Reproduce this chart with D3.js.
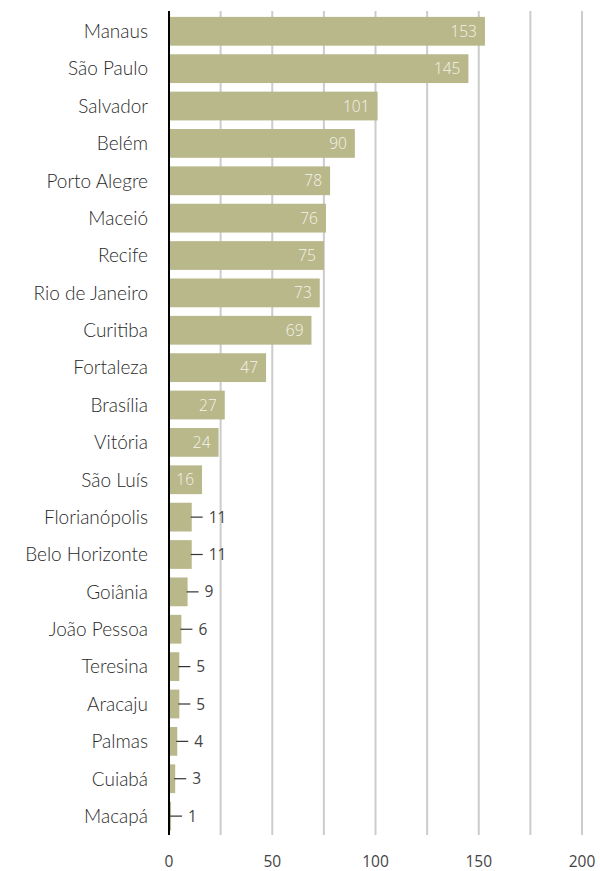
<!DOCTYPE html>
<html>
<head>
<meta charset="utf-8">
<script src="https://cdn.jsdelivr.net/npm/d3@7"></script>
<style>
  body { margin: 0; background: #fff; }
  svg { display: block; }
</style>
</head>
<body>
<script>
// cities and counts
const cities = ["Manaus", "São Paulo", "Salvador", "Belém", "Porto Alegre", "Maceió", "Recife",
  "Rio de Janeiro", "Curitiba", "Fortaleza", "Brasília", "Vitória", "São Luís", "Florianópolis",
  "Belo Horizonte", "Goiânia", "João Pessoa", "Teresina", "Aracaju", "Palmas", "Cuiabá", "Macapá"];
const counts = [153, 145, 101, 90, 78, 76, 75, 73, 69, 47, 27, 24, 16, 11, 11, 9, 6, 5, 5, 4, 3, 1];
const xTicks = [0, 50, 100, 150, 200];

const data = cities.map((c, i) => ({ city: c, value: counts[i] }));

const width = 600, height = 871;
const barColor = "#b9b88a";
const numFont = "'Open Sans', sans-serif";

const x = d3.scaleLinear().domain([0, 200]).range([169, 582]);
const y = d3.scaleBand()
  .domain(cities)
  .range([12.6, 834.8])
  .paddingInner(0.23)
  .paddingOuter(0.115);

const svg = d3.select("body").append("svg")
  .attr("width", width)
  .attr("height", height);

// vertical gridlines every 25
svg.append("g")
  .selectAll("line")
  .data(d3.range(25, 201, 25))
  .join("line")
    .attr("x1", d => x(d))
    .attr("x2", d => x(d))
    .attr("y1", 11)
    .attr("y2", 835)
    .attr("stroke", "#cccccc")
    .attr("stroke-width", 2);

// bars
svg.append("g")
  .selectAll("rect")
  .data(data)
  .join("rect")
    .attr("x", x(0))
    .attr("y", d => y(d.city))
    .attr("width", d => x(d.value) - x(0))
    .attr("height", y.bandwidth())
    .attr("fill", barColor);

// zero line
svg.append("line")
  .attr("x1", x(0)).attr("x2", x(0))
  .attr("y1", 11).attr("y2", 835)
  .attr("stroke", "#000")
  .attr("stroke-width", 2);

// city labels
svg.append("g")
  .selectAll("text")
  .data(data)
  .join("text")
    .attr("x", 148)
    .attr("y", d => y(d.city) + y.bandwidth() / 2)
    .attr("dy", "0.36em")
    .attr("text-anchor", "end")
    .attr("font-family", "Lato, sans-serif")
    .attr("font-weight", 300)
    .attr("font-size", 19)
    .attr("fill", "#2a2a2a")
    .text(d => d.city);

// value labels: inside for big bars, outside with a leader for small ones
const inside = data.filter(d => d.value >= 16);
const outside = data.filter(d => d.value < 16);

svg.append("g")
  .selectAll("text")
  .data(inside)
  .join("text")
    .attr("x", d => x(d.value) - 8)
    .attr("y", d => y(d.city) + y.bandwidth() / 2)
    .attr("dy", "0.36em")
    .attr("text-anchor", "end")
    .attr("font-family", numFont)
    .attr("font-weight", 300)
    .attr("font-size", 15.5)
    .attr("fill", "#f4f3ea")
    .text(d => d.value);

const out = svg.append("g");
out.selectAll("line")
  .data(outside)
  .join("line")
    .attr("x1", d => x(d.value) - 1)
    .attr("x2", d => x(d.value) + 11)
    .attr("y1", d => y(d.city) + y.bandwidth() / 2)
    .attr("y2", d => y(d.city) + y.bandwidth() / 2)
    .attr("stroke", "#333")
    .attr("stroke-width", 1.2);
out.selectAll("text")
  .data(outside)
  .join("text")
    .attr("x", d => x(d.value) + 17)
    .attr("y", d => y(d.city) + y.bandwidth() / 2)
    .attr("dy", "0.36em")
    .attr("font-family", numFont)
    .attr("font-size", 15.5)
    .attr("fill", "#444")
    .text(d => d.value);

// x tick labels
svg.append("g")
  .selectAll("text")
  .data(xTicks)
  .join("text")
    .attr("x", d => x(d))
    .attr("y", 861.5)
    .attr("dy", "0.36em")
    .attr("text-anchor", "middle")
    .attr("font-family", numFont)
    .attr("font-size", 15.5)
    .attr("fill", "#444")
    .text(d => d);
</script>
</body>
</html>
